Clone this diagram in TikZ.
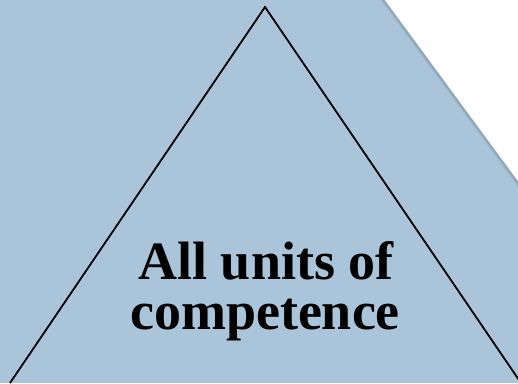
\documentclass[tikz,border=0pt]{standalone}
\usepackage{fontspec}
\setmainfont{Liberation Serif}
\definecolor{bg}{HTML}{AAC5D9}
\tikzset{
  edge/.style={black, line width=1.8pt},
  bigtext/.style={font=\bfseries\fontsize{54}{50}\selectfont, anchor=base, inner sep=0pt}
}
\begin{document}
\begin{tikzpicture}[x=1pt,y=-1pt]
\useasboundingbox (0,0) rectangle (518,383);
\clip (0,0) rectangle (518,383);
\fill[bg] (0,0) rectangle (518,383);
% soft shadow along the white cut
\foreach \o/\a in {3/0.05,2/0.09,1/0.14}{
  \draw[black, opacity=\a, line width=1.2pt, shift={(-0.8*\o,0.6*\o)}] (381.3,-5) -- (530,197.3);
}
\fill[white] (381.3,-5) -- (530,-5) -- (530,197.3) -- cycle;
% triangle
\coordinate (apex) at (265,7);
\coordinate (bl) at (10,383);
\coordinate (br) at (521,383);
\draw[edge, line join=miter] (bl) -- (apex) -- (br);
\node[bigtext] (l1) at (266,279) {All units of};
\node[bigtext] (l2) at (265,329) {competence};
\end{tikzpicture}
\end{document}
